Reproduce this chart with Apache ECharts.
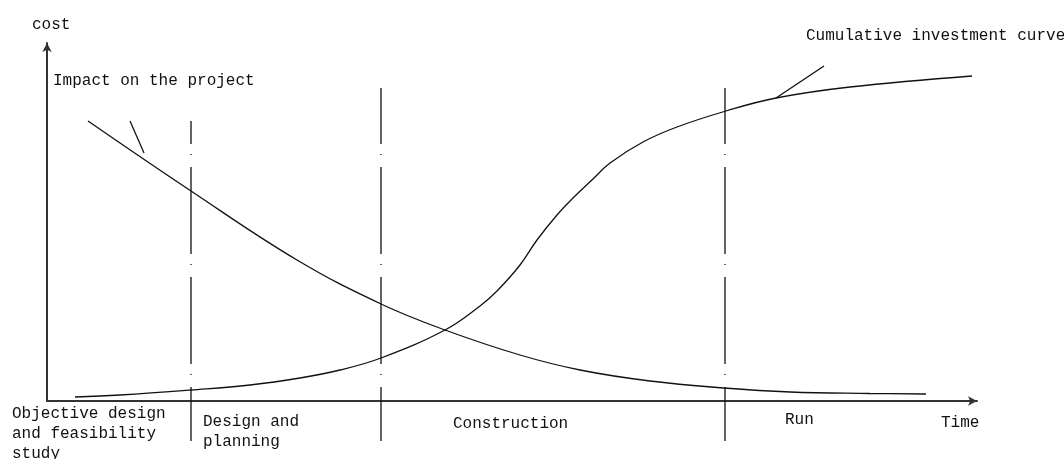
<!DOCTYPE html>
<html>
<head>
<meta charset="utf-8">
<title>Project cost curves</title>
<script src="https://cdn.jsdelivr.net/npm/echarts@6/dist/echarts.min.js"></script>
<style>
  html, body { margin: 0; padding: 0; background: #fff; }
  #chart { width: 1064px; height: 459px; }
</style>
</head>
<body>
<div id="chart"></div>
<script>
// x = time position, y = height above the time axis
const impactCurve = [
  [88, 280], [191, 210], [297, 141], [381, 97], [445, 71], [520, 46],
  [580, 31], [650, 20], [724, 13], [790, 9], [870, 7.5], [926, 7]
]
const investmentCurve = [
  [75, 4], [120, 6], [191, 11], [250, 16], [300, 23], [340, 31],
  [381, 43], [445, 71], [480, 95], [497, 110], [520, 136], [537, 161],
  [557, 186], [573, 203], [593, 222], [610, 238], [643, 259], [677, 274],
  [726, 290], [776, 303], [850, 314], [972, 325]
]
// leader lines from labels to curves
const impactLeader = [[130, 280], [144, 248]]
const investmentLeader = [[824, 335], [776, 303]]
// phase boundaries: x, top of line
const phaseX = [191, 381, 725]
const phaseTop = [280, 313, 313]
const phaseBottom = -40
const phaseNames = ['Objective design\nand feasibility\nstudy', 'Design and\nplanning', 'Construction', 'Run']

const chart = echarts.init(document.getElementById('chart'))

const mono = '"Liberation Mono", "DejaVu Sans Mono", monospace'
const black = '#111'

// dash pattern is aligned to the page, so offset depends on where the line starts
const dashOffsets = [64, 31, 31]

const phaseSeries = phaseX.map((x, i) => ({
  type: 'line',
  data: [[x, phaseTop[i]], [x, phaseBottom]],
  symbol: 'none',
  clip: false,
  silent: true,
  lineStyle: { color: black, width: 1.3, type: [87, 10, 1, 12], dashOffset: dashOffsets[i] }
}))

function curve(data, smooth) {
  return {
    type: 'line',
    data: data,
    symbol: 'none',
    smooth: smooth,
    clip: false,
    silent: true,
    lineStyle: { color: black, width: 1.3 }
  }
}

function label(text, left, top) {
  return {
    type: 'text',
    left: left,
    top: top,
    style: { text: text, font: '16px ' + mono, fill: black, lineHeight: 20 }
  }
}

chart.setOption({
  animation: false,
  grid: { left: 47, right: 87, top: 43, bottom: 58 },
  xAxis: {
    type: 'value',
    min: 47,
    max: 977,
    axisLine: { lineStyle: { color: '#333', width: 2 }, symbol: ['none', 'arrow'], symbolSize: [7, 9] },
    axisTick: { show: false },
    axisLabel: { show: false },
    splitLine: { show: false }
  },
  yAxis: {
    type: 'value',
    min: 0,
    max: 358,
    axisLine: { show: true, lineStyle: { color: '#333', width: 2 }, symbol: ['none', 'arrow'], symbolSize: [7, 9] },
    axisTick: { show: false },
    axisLabel: { show: false },
    splitLine: { show: false }
  },
  series: [
    ...phaseSeries,
    curve(impactCurve, 0.4),
    curve(investmentCurve, 0.4),
    curve(impactLeader, false),
    curve(investmentLeader, false)
  ],
  graphic: [
    label('cost', 32, 15),
    label('Impact on the project', 53, 71),
    label('Cumulative investment curve', 806, 26),
    label(phaseNames[0], 12, 404),
    label(phaseNames[1], 203, 412),
    label(phaseNames[2], 453, 414),
    label(phaseNames[3], 785, 410),
    label('Time', 941, 413)
  ]
})
</script>
</body>
</html>
